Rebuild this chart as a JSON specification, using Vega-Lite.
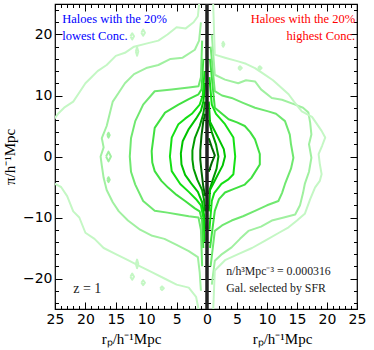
{
"$schema":"https://vega.github.io/schema/vega-lite/v6.json",
"autosize":{"type":"none"},
"padding":{"left":55,"top":4,"right":17,"bottom":41},
"width":302,"height":305,
"config":{"view":{"stroke":"black","strokeWidth":1.2},"axis":{"domain":false,"grid":false,"tickColor":"black","tickWidth":1,"labelColor":"black","labelFont":"DejaVu Sans","labelFontSize":14,"labelOverlap":false,"labelFlush":false,"titleFont":"Liberation Serif","titleFontSize":15,"titleFontWeight":"normal","titleColor":"black"}},
"datasets":{"cont":[
{"c":"L8","l":8,"x":-0.3,"y":7},{"c":"L8","l":8,"x":-0.6,"y":5.8},{"c":"L8","l":8,"x":-0.9,"y":3.5},{"c":"L8","l":8,"x":-1.1,"y":1},{"c":"L8","l":8,"x":-1.1,"y":-0.5},{"c":"L8","l":8,"x":-0.9,"y":-2.5},{"c":"L8","l":8,"x":-0.6,"y":-5},{"c":"L8","l":8,"x":-0.3,"y":-6.5},
{"c":"L7","l":7,"x":-0.3,"y":9},{"c":"L7","l":7,"x":-0.6,"y":7},{"c":"L7","l":7,"x":-1.2,"y":5},{"c":"L7","l":7,"x":-2,"y":3},{"c":"L7","l":7,"x":-2.4,"y":1},{"c":"L7","l":7,"x":-2.4,"y":-0.5},{"c":"L7","l":7,"x":-2.2,"y":-2},{"c":"L7","l":7,"x":-1.6,"y":-3.8},{"c":"L7","l":7,"x":-0.8,"y":-5.5},{"c":"L7","l":7,"x":-0.5,"y":-7},{"c":"L7","l":7,"x":-0.3,"y":-9},
{"c":"L6","l":6,"x":-0.3,"y":12},{"c":"L6","l":6,"x":-0.6,"y":9},{"c":"L6","l":6,"x":-1,"y":7.5},{"c":"L6","l":6,"x":-1.8,"y":6.2},{"c":"L6","l":6,"x":-3,"y":4.5},{"c":"L6","l":6,"x":-4,"y":2.5},{"c":"L6","l":6,"x":-4.3,"y":0.5},{"c":"L6","l":6,"x":-4.2,"y":-1.3},{"c":"L6","l":6,"x":-3.6,"y":-3},{"c":"L6","l":6,"x":-2.6,"y":-4.4},{"c":"L6","l":6,"x":-1.5,"y":-5.8},{"c":"L6","l":6,"x":-0.8,"y":-7.5},{"c":"L6","l":6,"x":-0.5,"y":-9.5},{"c":"L6","l":6,"x":-0.3,"y":-12},
{"c":"L5","l":5,"x":-0.4,"y":14},{"c":"L5","l":5,"x":-0.7,"y":10},{"c":"L5","l":5,"x":-1.2,"y":8.5},{"c":"L5","l":5,"x":-2.5,"y":7},{"c":"L5","l":5,"x":-3.6,"y":6.2},{"c":"L5","l":5,"x":-4.7,"y":5.3},{"c":"L5","l":5,"x":-5.8,"y":3.1},{"c":"L5","l":5,"x":-6.1,"y":0},{"c":"L5","l":5,"x":-5.8,"y":-2.4},{"c":"L5","l":5,"x":-4.4,"y":-4.5},{"c":"L5","l":5,"x":-3,"y":-5.8},{"c":"L5","l":5,"x":-1.8,"y":-7},{"c":"L5","l":5,"x":-1,"y":-8},{"c":"L5","l":5,"x":-0.6,"y":-10},{"c":"L5","l":5,"x":-0.4,"y":-14},
{"c":"L4","l":4,"x":-0.6,"y":16},{"c":"L4","l":4,"x":-0.9,"y":11},{"c":"L4","l":4,"x":-1.4,"y":10.2},{"c":"L4","l":4,"x":-3,"y":9.4},{"c":"L4","l":4,"x":-4.7,"y":8.5},{"c":"L4","l":4,"x":-6.9,"y":7.2},{"c":"L4","l":4,"x":-8.6,"y":4.7},{"c":"L4","l":4,"x":-9.1,"y":0.9},{"c":"L4","l":4,"x":-9,"y":-1},{"c":"L4","l":4,"x":-8.6,"y":-2.4},{"c":"L4","l":4,"x":-7.5,"y":-4},{"c":"L4","l":4,"x":-6.4,"y":-5.1},{"c":"L4","l":4,"x":-5,"y":-6.3},{"c":"L4","l":4,"x":-3.6,"y":-7.3},{"c":"L4","l":4,"x":-2,"y":-8.5},{"c":"L4","l":4,"x":-1.2,"y":-9},{"c":"L4","l":4,"x":-0.8,"y":-10.5},{"c":"L4","l":4,"x":-0.6,"y":-15},
{"c":"L3","l":3,"x":-0.8,"y":19},{"c":"L3","l":3,"x":-1,"y":13},{"c":"L3","l":3,"x":-1.4,"y":11.5},{"c":"L3","l":3,"x":-3,"y":11.3},{"c":"L3","l":3,"x":-5.8,"y":11},{"c":"L3","l":3,"x":-8.6,"y":10.7},{"c":"L3","l":3,"x":-10.5,"y":8.5},{"c":"L3","l":3,"x":-11.8,"y":5.8},{"c":"L3","l":3,"x":-12.5,"y":3},{"c":"L3","l":3,"x":-12.7,"y":0},{"c":"L3","l":3,"x":-12.5,"y":-2.5},{"c":"L3","l":3,"x":-11.8,"y":-4.6},{"c":"L3","l":3,"x":-10.5,"y":-7.3},{"c":"L3","l":3,"x":-8.6,"y":-8.9},{"c":"L3","l":3,"x":-6.5,"y":-9.2},{"c":"L3","l":3,"x":-4.7,"y":-9.5},{"c":"L3","l":3,"x":-3,"y":-9.8},{"c":"L3","l":3,"x":-1.4,"y":-10},{"c":"L3","l":3,"x":-1,"y":-12},{"c":"L3","l":3,"x":-0.8,"y":-18},
{"c":"L2","l":2,"x":-1,"y":22},{"c":"L2","l":2,"x":-1.3,"y":19},{"c":"L2","l":2,"x":-2,"y":17.5},{"c":"L2","l":2,"x":-4,"y":16.2},{"c":"L2","l":2,"x":-6,"y":16},{"c":"L2","l":2,"x":-8,"y":15},{"c":"L2","l":2,"x":-10,"y":14.5},{"c":"L2","l":2,"x":-12,"y":13.5},{"c":"L2","l":2,"x":-13.5,"y":12},{"c":"L2","l":2,"x":-14.5,"y":10.5},{"c":"L2","l":2,"x":-15.5,"y":9},{"c":"L2","l":2,"x":-16,"y":7},{"c":"L2","l":2,"x":-16.5,"y":5},{"c":"L2","l":2,"x":-17.3,"y":3},{"c":"L2","l":2,"x":-17,"y":1.5},{"c":"L2","l":2,"x":-17.5,"y":0},{"c":"L2","l":2,"x":-17.3,"y":-1.5},{"c":"L2","l":2,"x":-17,"y":-3.5},{"c":"L2","l":2,"x":-16.5,"y":-5.5},{"c":"L2","l":2,"x":-15.5,"y":-7.5},{"c":"L2","l":2,"x":-14.5,"y":-9},{"c":"L2","l":2,"x":-13,"y":-10.5},{"c":"L2","l":2,"x":-11,"y":-12},{"c":"L2","l":2,"x":-9,"y":-13},{"c":"L2","l":2,"x":-7,"y":-13.5},{"c":"L2","l":2,"x":-5,"y":-14.5},{"c":"L2","l":2,"x":-3,"y":-15.5},{"c":"L2","l":2,"x":-1.5,"y":-16.5},{"c":"L2","l":2,"x":-1.2,"y":-19},{"c":"L2","l":2,"x":-1,"y":-22},
{"c":"L1","l":1,"x":-1.2,"y":26},{"c":"L1","l":1,"x":-1.5,"y":23},{"c":"L1","l":1,"x":-2.2,"y":22},{"c":"L1","l":1,"x":-3.5,"y":21},{"c":"L1","l":1,"x":-5,"y":21.2},{"c":"L1","l":1,"x":-6.5,"y":20},{"c":"L1","l":1,"x":-8,"y":19},{"c":"L1","l":1,"x":-10,"y":18.5},{"c":"L1","l":1,"x":-12,"y":18},{"c":"L1","l":1,"x":-13.5,"y":17},{"c":"L1","l":1,"x":-15,"y":16.5},{"c":"L1","l":1,"x":-16.5,"y":15},{"c":"L1","l":1,"x":-18,"y":14},{"c":"L1","l":1,"x":-19,"y":13},{"c":"L1","l":1,"x":-20,"y":12},{"c":"L1","l":1,"x":-21,"y":10.5},{"c":"L1","l":1,"x":-22,"y":9},{"c":"L1","l":1,"x":-23.5,"y":8},{"c":"L1","l":1,"x":-24.5,"y":7},{"c":"L1","l":1,"x":-26,"y":5},{"c":"L1","l":1,"x":-26,"y":-4},{"c":"L1","l":1,"x":-24,"y":-5},{"c":"L1","l":1,"x":-23,"y":-6.5},{"c":"L1","l":1,"x":-22,"y":-9},{"c":"L1","l":1,"x":-21,"y":-10},{"c":"L1","l":1,"x":-20,"y":-12.5},{"c":"L1","l":1,"x":-18.5,"y":-13.5},{"c":"L1","l":1,"x":-17,"y":-15},{"c":"L1","l":1,"x":-15,"y":-16},{"c":"L1","l":1,"x":-13,"y":-17},{"c":"L1","l":1,"x":-11,"y":-18},{"c":"L1","l":1,"x":-9,"y":-19},{"c":"L1","l":1,"x":-7,"y":-20},{"c":"L1","l":1,"x":-5,"y":-21},{"c":"L1","l":1,"x":-3,"y":-21.5},{"c":"L1","l":1,"x":-1.8,"y":-23},{"c":"L1","l":1,"x":-1.2,"y":-26},
{"c":"R8","l":8,"x":0.3,"y":3},{"c":"R8","l":8,"x":0.8,"y":1.5},{"c":"R8","l":8,"x":1.3,"y":0.2},{"c":"R8","l":8,"x":0.8,"y":-1},{"c":"R8","l":8,"x":0.3,"y":-2.5},
{"c":"R7","l":7,"x":0.3,"y":6},{"c":"R7","l":7,"x":0.8,"y":4},{"c":"R7","l":7,"x":1.5,"y":2},{"c":"R7","l":7,"x":1.9,"y":0},{"c":"R7","l":7,"x":1.6,"y":-2},{"c":"R7","l":7,"x":0.9,"y":-4},{"c":"R7","l":7,"x":0.3,"y":-6},
{"c":"R6","l":6,"x":0.3,"y":9},{"c":"R6","l":6,"x":0.5,"y":5.7},{"c":"R6","l":6,"x":1.8,"y":3.2},{"c":"R6","l":6,"x":2.8,"y":1.2},{"c":"R6","l":6,"x":3,"y":0},{"c":"R6","l":6,"x":2.6,"y":-1.5},{"c":"R6","l":6,"x":1.8,"y":-3},{"c":"R6","l":6,"x":0.5,"y":-5.5},{"c":"R6","l":6,"x":0.3,"y":-9},
{"c":"R5","l":5,"x":0.4,"y":13},{"c":"R5","l":5,"x":0.8,"y":8.5},{"c":"R5","l":5,"x":1.5,"y":7},{"c":"R5","l":5,"x":3,"y":5.3},{"c":"R5","l":5,"x":4.4,"y":3.1},{"c":"R5","l":5,"x":4.7,"y":0},{"c":"R5","l":5,"x":4.4,"y":-2.9},{"c":"R5","l":5,"x":3.5,"y":-3.8},{"c":"R5","l":5,"x":2.4,"y":-4.5},{"c":"R5","l":5,"x":1.2,"y":-6},{"c":"R5","l":5,"x":0.8,"y":-7.3},{"c":"R5","l":5,"x":0.4,"y":-12},
{"c":"R4","l":4,"x":0.5,"y":16},{"c":"R4","l":4,"x":1.3,"y":8},{"c":"R4","l":4,"x":2.5,"y":7},{"c":"R4","l":4,"x":3.6,"y":6.1},{"c":"R4","l":4,"x":5,"y":5.6},{"c":"R4","l":4,"x":6.3,"y":5},{"c":"R4","l":4,"x":7.2,"y":4},{"c":"R4","l":4,"x":8,"y":2.8},{"c":"R4","l":4,"x":8.8,"y":0.4},{"c":"R4","l":4,"x":8.8,"y":-1.3},{"c":"R4","l":4,"x":7.4,"y":-3.5},{"c":"R4","l":4,"x":6.3,"y":-4.6},{"c":"R4","l":4,"x":4.5,"y":-5.3},{"c":"R4","l":4,"x":3,"y":-5.9},{"c":"R4","l":4,"x":2,"y":-7},{"c":"R4","l":4,"x":1.3,"y":-8.9},{"c":"R4","l":4,"x":0.5,"y":-15},
{"c":"R3","l":3,"x":0.6,"y":18},{"c":"R3","l":3,"x":1.3,"y":10.7},{"c":"R3","l":3,"x":2.5,"y":10},{"c":"R3","l":3,"x":4.1,"y":9.6},{"c":"R3","l":3,"x":6,"y":8.8},{"c":"R3","l":3,"x":8,"y":8},{"c":"R3","l":3,"x":10.2,"y":7.4},{"c":"R3","l":3,"x":11.5,"y":7},{"c":"R3","l":3,"x":13,"y":5.8},{"c":"R3","l":3,"x":13.8,"y":3.6},{"c":"R3","l":3,"x":14,"y":2},{"c":"R3","l":3,"x":14.4,"y":-0.2},{"c":"R3","l":3,"x":14,"y":-2},{"c":"R3","l":3,"x":13,"y":-4.5},{"c":"R3","l":3,"x":12.5,"y":-6},{"c":"R3","l":3,"x":11.9,"y":-7.3},{"c":"R3","l":3,"x":10,"y":-8},{"c":"R3","l":3,"x":8,"y":-8.9},{"c":"R3","l":3,"x":6,"y":-9.8},{"c":"R3","l":3,"x":4.1,"y":-10.5},{"c":"R3","l":3,"x":2.5,"y":-11.3},{"c":"R3","l":3,"x":1.3,"y":-12.2},{"c":"R3","l":3,"x":0.6,"y":-18},
{"c":"R2","l":2,"x":0.8,"y":20},{"c":"R2","l":2,"x":1.3,"y":13.4},{"c":"R2","l":2,"x":3,"y":12.6},{"c":"R2","l":2,"x":5.2,"y":12},{"c":"R2","l":2,"x":6.5,"y":12.5},{"c":"R2","l":2,"x":8,"y":12.3},{"c":"R2","l":2,"x":9,"y":11},{"c":"R2","l":2,"x":10.8,"y":9.6},{"c":"R2","l":2,"x":12.5,"y":9.3},{"c":"R2","l":2,"x":14.7,"y":8.5},{"c":"R2","l":2,"x":16,"y":8},{"c":"R2","l":2,"x":16.9,"y":7.2},{"c":"R2","l":2,"x":17.2,"y":5.5},{"c":"R2","l":2,"x":17.4,"y":3.6},{"c":"R2","l":2,"x":17,"y":2},{"c":"R2","l":2,"x":17.4,"y":-0.2},{"c":"R2","l":2,"x":17,"y":-2.5},{"c":"R2","l":2,"x":16.3,"y":-4.5},{"c":"R2","l":2,"x":16,"y":-6},{"c":"R2","l":2,"x":15.5,"y":-8},{"c":"R2","l":2,"x":14.7,"y":-9.5},{"c":"R2","l":2,"x":12.8,"y":-10},{"c":"R2","l":2,"x":10.8,"y":-10.5},{"c":"R2","l":2,"x":9,"y":-11.5},{"c":"R2","l":2,"x":6.9,"y":-12.2},{"c":"R2","l":2,"x":5.5,"y":-13.5},{"c":"R2","l":2,"x":4.1,"y":-14.9},{"c":"R2","l":2,"x":2.5,"y":-16},{"c":"R2","l":2,"x":1.3,"y":-17.1},{"c":"R2","l":2,"x":0.8,"y":-21},
{"c":"R1","l":1,"x":1,"y":26},{"c":"R1","l":1,"x":1.3,"y":16.7},{"c":"R1","l":1,"x":3,"y":16.2},{"c":"R1","l":1,"x":5.2,"y":15.6},{"c":"R1","l":1,"x":6.5,"y":15.2},{"c":"R1","l":1,"x":8,"y":14.5},{"c":"R1","l":1,"x":9.5,"y":13.5},{"c":"R1","l":1,"x":11,"y":12.5},{"c":"R1","l":1,"x":13.6,"y":10.2},{"c":"R1","l":1,"x":14.5,"y":9},{"c":"R1","l":1,"x":15.8,"y":7.4},{"c":"R1","l":1,"x":17.5,"y":6.5},{"c":"R1","l":1,"x":19.1,"y":4.2},{"c":"R1","l":1,"x":19.7,"y":3.1},{"c":"R1","l":1,"x":19.2,"y":1.8},{"c":"R1","l":1,"x":18.6,"y":0.4},{"c":"R1","l":1,"x":18.8,"y":-1.2},{"c":"R1","l":1,"x":19.1,"y":-2.9},{"c":"R1","l":1,"x":18.8,"y":-4},{"c":"R1","l":1,"x":18,"y":-5.1},{"c":"R1","l":1,"x":17.2,"y":-7},{"c":"R1","l":1,"x":16.3,"y":-9.4},{"c":"R1","l":1,"x":15,"y":-10.5},{"c":"R1","l":1,"x":13.6,"y":-11.6},{"c":"R1","l":1,"x":12,"y":-12.5},{"c":"R1","l":1,"x":9.7,"y":-13.8},{"c":"R1","l":1,"x":7.5,"y":-15},{"c":"R1","l":1,"x":5.2,"y":-16},{"c":"R1","l":1,"x":3,"y":-17},{"c":"R1","l":1,"x":1.3,"y":-18.7},{"c":"R1","l":1,"x":1,"y":-26},
{"c":"B1","l":1,"x":-12.6,"y":19.7},{"c":"B1","l":1,"x":-12.3,"y":20.2},{"c":"B1","l":1,"x":-12,"y":19.7},{"c":"B1","l":1,"x":-12.3,"y":19.2},{"c":"B1","l":1,"x":-12.6,"y":19.7},
{"c":"B2","l":1,"x":-10.8,"y":20.3},{"c":"B2","l":1,"x":-10.5,"y":20.8},{"c":"B2","l":1,"x":-10.2,"y":20.3},{"c":"B2","l":1,"x":-10.5,"y":19.8},{"c":"B2","l":1,"x":-10.8,"y":20.3},
{"c":"B3","l":1,"x":-11.7,"y":17.2},{"c":"B3","l":1,"x":-11.5,"y":17.9},{"c":"B3","l":1,"x":-11.3,"y":17.2},{"c":"B3","l":1,"x":-11.5,"y":16.5},{"c":"B3","l":1,"x":-11.7,"y":17.2},
{"c":"B4","l":1,"x":-12.6,"y":-19.7},{"c":"B4","l":1,"x":-12.3,"y":-19.2},{"c":"B4","l":1,"x":-12,"y":-19.7},{"c":"B4","l":1,"x":-12.3,"y":-20.2},{"c":"B4","l":1,"x":-12.6,"y":-19.7},
{"c":"B5","l":1,"x":-10.8,"y":-20.7},{"c":"B5","l":1,"x":-10.5,"y":-20.3},{"c":"B5","l":1,"x":-10.2,"y":-20.7},{"c":"B5","l":1,"x":-10.5,"y":-21.1},{"c":"B5","l":1,"x":-10.8,"y":-20.7},
{"c":"B6","l":1,"x":-7.7,"y":-21.6},{"c":"B6","l":1,"x":-7.4,"y":-21.3},{"c":"B6","l":1,"x":-7.1,"y":-21.6},{"c":"B6","l":1,"x":-7.4,"y":-21.9},{"c":"B6","l":1,"x":-7.7,"y":-21.6},
{"c":"B7","l":1,"x":-11.7,"y":-17.6},{"c":"B7","l":1,"x":-11.5,"y":-16.9},{"c":"B7","l":1,"x":-11.3,"y":-17.6},{"c":"B7","l":1,"x":-11.5,"y":-18.3},{"c":"B7","l":1,"x":-11.7,"y":-17.6},
{"c":"B8","l":2,"x":-16.6,"y":0},{"c":"B8","l":2,"x":-16.2,"y":0.8},{"c":"B8","l":2,"x":-15.8,"y":0},{"c":"B8","l":2,"x":-16.2,"y":-0.8},{"c":"B8","l":2,"x":-16.6,"y":0},
{"c":"B9","l":2,"x":-16.4,"y":3.5},{"c":"B9","l":2,"x":-16.2,"y":3.9},{"c":"B9","l":2,"x":-16,"y":3.5},{"c":"B9","l":2,"x":-16.2,"y":3.1},{"c":"B9","l":2,"x":-16.4,"y":3.5},
{"c":"B10","l":2,"x":-16.4,"y":-3.8},{"c":"B10","l":2,"x":-16.2,"y":-3.4},{"c":"B10","l":2,"x":-16,"y":-3.8},{"c":"B10","l":2,"x":-16.2,"y":-4.2},{"c":"B10","l":2,"x":-16.4,"y":-3.8},
{"c":"B11","l":1,"x":5.2,"y":14.5},{"c":"B11","l":1,"x":5.5,"y":14.8},{"c":"B11","l":1,"x":5.8,"y":14.5},{"c":"B11","l":1,"x":5.5,"y":14.2},{"c":"B11","l":1,"x":5.2,"y":14.5},
{"c":"B12","l":1,"x":8.5,"y":14.5},{"c":"B12","l":1,"x":8.8,"y":14.8},{"c":"B12","l":1,"x":9.1,"y":14.5},{"c":"B12","l":1,"x":8.8,"y":14.2},{"c":"B12","l":1,"x":8.5,"y":14.5},
{"c":"B13","l":1,"x":2.5,"y":18.4},{"c":"B13","l":1,"x":2.7,"y":18.8},{"c":"B13","l":1,"x":2.9,"y":18.4},{"c":"B13","l":1,"x":2.7,"y":18},{"c":"B13","l":1,"x":2.5,"y":18.4}
]},
"layer":[
{"data":{"name":"cont"},
 "mark":{"type":"line","strokeWidth":2,"clip":true,"strokeJoin":"round"},
 "encoding":{
  "x":{"field":"x","type":"quantitative","scale":{"domain":[-25,0,25],"range":[0,152,302],"nice":false,"zero":false},
       "axis":{"orient":"bottom","title":null,"values":[-25,-24,-23,-22,-21,-20,-19,-18,-17,-16,-15,-14,-13,-12,-11,-10,-9,-8,-7,-6,-5,-4,-3,-2,-1,0,1,2,3,4,5,6,7,8,9,10,11,12,13,14,15,16,17,18,19,20,21,22,23,24,25],
               "labelExpr":"datum.value % 5 === 0 ? format(abs(datum.value),'d') : ''","labelPadding":10,
               "tickSize":{"condition":{"test":"datum.value % 5 === 0","value":-7},"value":-3.5}}},
  "y":{"field":"y","type":"quantitative","scale":{"domain":[-25,25],"nice":false,"zero":false},
       "axis":{"orient":"left","title":"π/h⁻¹Mpc","titlePadding":5,"values":[-24,-22,-20,-18,-16,-14,-12,-10,-8,-6,-4,-2,0,2,4,6,8,10,12,14,16,18,20,22,24],
               "labelExpr":"datum.value % 10 === 0 ? datum.label : ''","labelPadding":10,
               "tickSize":{"condition":{"test":"datum.value % 10 === 0","value":-7},"value":-3.5}}},
  "color":{"field":"l","type":"ordinal","scale":{"domain":[1,2,3,4,5,6,7,8],"range":["#c4f7c4","#a0f0a0","#70e870","#40e040","#14e014","#00c400","#009a00","#006800"]},"legend":null},
  "detail":{"field":"c"},
  "order":{"value":null}}},
{"data":{"values":[{"x":-23.8,"y":22.6,"t":"Haloes with the 20%"},{"x":-23.8,"y":19.75,"t":"lowest Conc."}]},
 "mark":{"type":"text","align":"left","baseline":"middle","font":"Liberation Serif","fontSize":12.5,"color":"#0000ff"},
 "encoding":{
  "x":{"field":"x","type":"quantitative","axis":{"orient":"top","title":null,"labels":false,"values":[-25,-24,-23,-22,-21,-20,-19,-18,-17,-16,-15,-14,-13,-12,-11,-10,-9,-8,-7,-6,-5,-4,-3,-2,-1,0,1,2,3,4,5,6,7,8,9,10,11,12,13,14,15,16,17,18,19,20,21,22,23,24,25],"tickSize":{"condition":{"test":"datum.value % 5 === 0","value":-7},"value":-3.5}}},
  "y":{"field":"y","type":"quantitative","axis":{"orient":"right","title":null,"labels":false,"values":[-24,-22,-20,-18,-16,-14,-12,-10,-8,-6,-4,-2,0,2,4,6,8,10,12,14,16,18,20,22,24],"tickSize":{"condition":{"test":"datum.value % 10 === 0","value":-7},"value":-3.5}}},
  "text":{"field":"t"}}},
{"data":{"values":[{"x":24.7,"y":22.6,"t":"Haloes with the 20%"},{"x":24.7,"y":19.75,"t":"highest Conc."}]},
 "mark":{"type":"text","align":"right","baseline":"middle","font":"Liberation Serif","fontSize":12.5,"color":"#ff0000"},
 "encoding":{"x":{"field":"x","type":"quantitative","axis":null},"y":{"field":"y","type":"quantitative","axis":null},"text":{"field":"t"}}},
{"data":{"values":[{"x":-22,"y":-21.7,"t":"z = 1"}]},
 "mark":{"type":"text","align":"left","baseline":"middle","font":"Liberation Serif","fontSize":14,"color":"#222222"},
 "encoding":{"x":{"field":"x","type":"quantitative","axis":null},"y":{"field":"y","type":"quantitative","axis":null},"text":{"field":"t"}}},
{"data":{"values":[{"x":3.2,"y":-18.8,"t":"n/h³Mpc⁻³ = 0.000316"},{"x":3.2,"y":-21.6,"t":"Gal. selected by SFR"}]},
 "mark":{"type":"text","align":"left","baseline":"middle","font":"Liberation Serif","fontSize":11.8,"color":"#222222"},
 "encoding":{"x":{"field":"x","type":"quantitative","axis":null},"y":{"field":"y","type":"quantitative","axis":null},"text":{"field":"t"}}},
{"data":{"values":[{}]},
 "mark":{"type":"rule","color":"#222222","strokeWidth":3},
 "encoding":{
  "x":{"datum":0,"type":"quantitative","axis":{"orient":"bottom","labels":false,"ticks":false,"title":"rₚ/h⁻¹Mpc","titleX":76,"titleY":22,"titleBaseline":"top","titleAlign":"center"}},
  "y":{"datum":-25,"type":"quantitative","axis":{"orient":"left","offset":-152,"title":null,"labels":false,"values":[-24,-22,-20,-18,-16,-14,-12,-10,-8,-6,-4,-2,0,2,4,6,8,10,12,14,16,18,20,22,24],"tickSize":{"condition":{"test":"datum.value % 10 === 0","value":-7},"value":-3.5}}},
  "y2":{"datum":25}}},
{"data":{"values":[{}]},
 "mark":{"type":"rule","color":"#222222","strokeWidth":3},
 "encoding":{
  "x":{"datum":0,"type":"quantitative","axis":{"orient":"bottom","labels":false,"ticks":false,"title":"rₚ/h⁻¹Mpc","titleX":227,"titleY":22,"titleBaseline":"top","titleAlign":"center"}},
  "y":{"datum":-25,"type":"quantitative","axis":{"orient":"right","offset":-150,"title":null,"labels":false,"values":[-24,-22,-20,-18,-16,-14,-12,-10,-8,-6,-4,-2,0,2,4,6,8,10,12,14,16,18,20,22,24],"tickSize":{"condition":{"test":"datum.value % 10 === 0","value":-7},"value":-3.5}}},
  "y2":{"datum":25}}}
],
"resolve":{"axis":{"x":"independent","y":"independent"}}
}
